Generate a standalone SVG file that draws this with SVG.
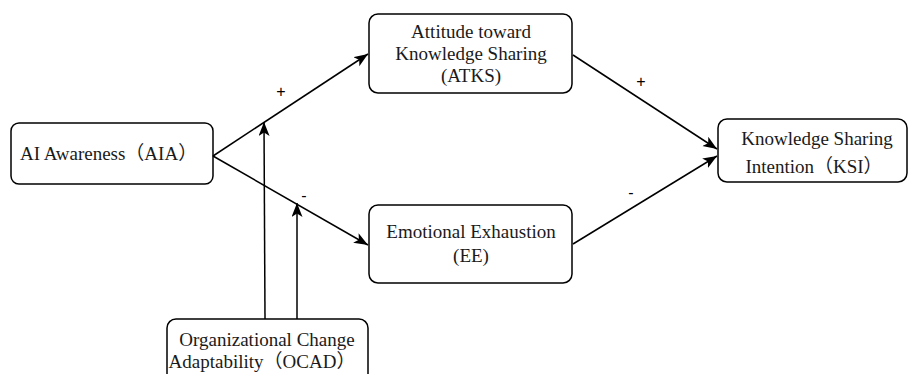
<svg xmlns="http://www.w3.org/2000/svg" width="909" height="374" viewBox="0 0 909 374">
<style>
.box{fill:#fff;stroke:#000;stroke-width:1.5}
.t{font-family:"Liberation Serif","Noto Sans CJK SC",serif;font-size:19px;fill:#1a1a1a}
.c{text-anchor:middle}
.ln{fill:none;stroke:#000;stroke-width:1.5}
.lbl{font-family:"Liberation Sans",sans-serif;font-size:16px;fill:#000;text-anchor:middle}
</style>
<defs>
<marker id="ah" markerUnits="userSpaceOnUse" markerWidth="16" markerHeight="12" refX="14" refY="5.5" orient="auto">
<path d="M0,0 L14,5.5 L0,11 L3.5,5.5 z" fill="#000"/>
</marker>
</defs>
<rect width="909" height="374" fill="#fff"/>
<g id="AIA">
<rect class="box" x="11" y="123" width="202" height="61" rx="8"/>
<text class="t" x="20" y="160">AI Awareness（AIA）</text>
</g>
<g id="ATKS">
<rect class="box" x="369" y="14" width="203" height="79" rx="9"/>
<text class="t c" x="471" y="38">Attitude toward</text>
<text class="t c" x="471" y="60">Knowledge Sharing</text>
<text class="t c" x="471" y="82">(ATKS)</text>
</g>
<g id="EE">
<rect class="box" x="369" y="205" width="203" height="78" rx="9"/>
<text class="t c" x="471" y="238">Emotional Exhaustion</text>
<text class="t c" x="471" y="262">(EE)</text>
</g>
<g id="KSI">
<rect class="box" x="718" y="119" width="189" height="63" rx="9"/>
<text class="t c" x="817" y="145">Knowledge Sharing</text>
<text class="t c" x="814" y="173">Intention（KSI）</text>
</g>
<g id="OCAD">
<rect class="box" x="167" y="319" width="201" height="80" rx="9"/>
<text class="t c" x="267" y="346">Organizational Change</text>
<text class="t c" x="262" y="368">Adaptability（OCAD）</text>
</g>
<g id="connectors">
<line class="ln" x1="213" y1="156" x2="368" y2="54" marker-end="url(#ah)"/>
<line class="ln" x1="213" y1="156" x2="368" y2="245" marker-end="url(#ah)"/>
<line class="ln" x1="573" y1="55" x2="717" y2="149" marker-end="url(#ah)"/>
<line class="ln" x1="573" y1="244" x2="717" y2="156" marker-end="url(#ah)"/>
<line class="ln" x1="265" y1="319" x2="264" y2="122" marker-end="url(#ah)"/>
<line class="ln" x1="297" y1="319" x2="297" y2="203" marker-end="url(#ah)"/>
<text class="lbl" x="281" y="97">+</text>
<text class="lbl" x="304" y="201">-</text>
<text class="lbl" x="641" y="87">+</text>
<text class="lbl" x="631" y="198">-</text>
</g>
</svg>
